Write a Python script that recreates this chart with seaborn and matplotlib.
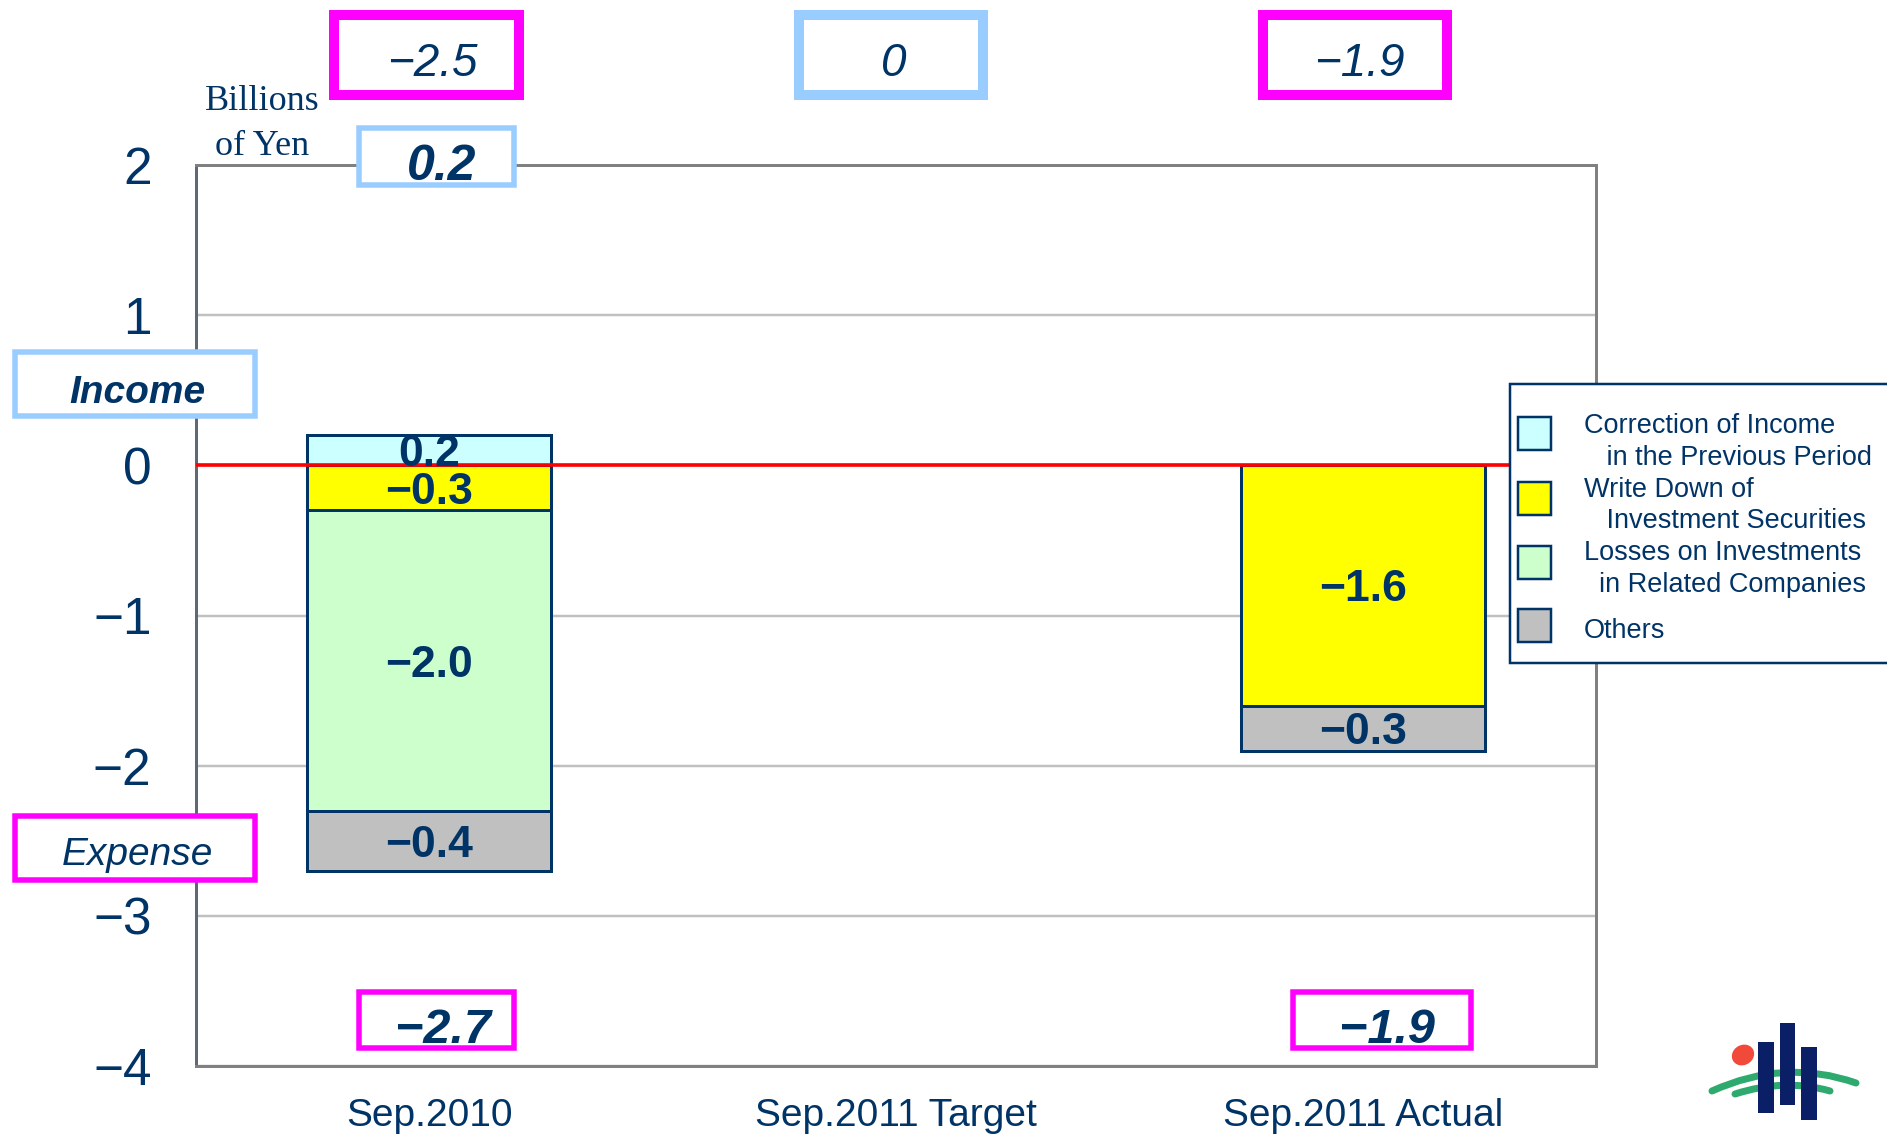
import numpy as np
import pandas as pd
import matplotlib
matplotlib.use("Agg")
import matplotlib.pyplot as plt
from matplotlib.patches import Rectangle, Ellipse, PathPatch
from matplotlib.path import Path
import seaborn as sns

# ---------------- data ----------------
periods = ["Sep.2010", "Sep.2011 Target", "Sep.2011 Actual"]
correction_income = [0.2, 0.0, 0.0]
write_down = [-0.3, 0.0, -1.6]
losses_related = [-2.0, 0.0, 0.0]
others = [-0.4, 0.0, -0.3]
net_totals = [-2.5, 0.0, -1.9]
income_totals = [0.2, None, None]
expense_totals = [-2.7, None, -1.9]
segment_labels = [
    "Correction of Income\n   in the Previous Period",
    "Write Down of\n   Investment Securities",
    "Losses on Investments\n  in Related Companies",
    "Others",
]
y_ticks = [-4, -3, -2, -1, 0, 1, 2]
unit_label = "Billions\nof Yen"
income_label = "Income"
expense_label = "Expense"

# ---------------- style ----------------
W, H = 1887, 1134
NAVY = "#003366"
MAGENTA = "#FF00FF"
LBLUE = "#99CCFF"
seg_colors = ["#CCFFFF", "#FFFF00", "#CCFFCC", "#C0C0C0"]
PT = 0.72  # px -> pt at dpi 100

sns.set_style("white")
plt.rcParams["font.family"] = ["Liberation Sans", "DejaVu Sans"]
plt.rcParams["axes.unicode_minus"] = True


def fmt1(v):
    return f"{v:.1f}".replace("-", "\u2212")


def fmtg(v):
    return f"{v:g}".replace("-", "\u2212")


fig = plt.figure(figsize=(W / 100, H / 100), dpi=100)
ax = fig.add_axes([196 / W, 1 - 1066 / H, 1400 / W, 901 / H])

# ---------------- stacked bars ----------------
segments = [correction_income, write_down, losses_related, others]
rows = []
for i, p in enumerate(periods):
    pos_base, neg_base = 0.0, 0.0
    for k, vals in enumerate(segments):
        v = vals[i]
        if v == 0:
            continue
        if v > 0:
            b = pos_base
            pos_base += v
        else:
            b = neg_base
            neg_base += v
        rows.append(dict(period=p, segment=k, value=v, bottom=b, pos=i))
df = pd.DataFrame(rows)

for k in range(len(segments)):
    sub = df[df["segment"] == k].sort_values("pos")
    if sub.empty:
        continue
    sns.barplot(data=sub, x="period", y="value", order=periods,
                bottom=sub["bottom"].to_numpy(), width=0.523,
                color=seg_colors[k], saturation=1, edgecolor=NAVY,
                linewidth=3 * PT, errorbar=None, ax=ax, zorder=2)

for _, r in df.iterrows():
    ax.text(r["pos"], r["bottom"] + r["value"] / 2, fmt1(r["value"]),
            ha="center", va="center_baseline", fontsize=32, fontweight="bold",
            color=NAVY, zorder=6)

ax.axhline(0, color="#FF0000", lw=3.6 * PT, zorder=4)

ax.set_xlim(-0.5, 2.5)
ax.set_ylim(-4, 2)
ax.set_xlabel("")
ax.set_ylabel("")
ax.set_axisbelow(True)
ax.yaxis.grid(True, color="#C0C0C0", lw=2.5 * PT)
ax.xaxis.grid(False)
ax.set_yticks(y_ticks, labels=[fmtg(t) for t in y_ticks],
              fontfamily=["Liberation Sans Narrow", "Liberation Sans", "DejaVu Sans"],
              fontsize=37, color=NAVY)
ax.set_xticks(range(len(periods)), labels=periods, fontsize=28, color=NAVY)
ax.tick_params(axis="y", direction="in", length=11, width=2 * PT,
               color="#5f6975", pad=32)
ax.tick_params(axis="x", length=0, pad=23)
for name, sp in ax.spines.items():
    sp.set_color("#808080")
    sp.set_linewidth(3 * PT)
ax.spines["left"].set_color("#5f6975")

# ---------------- overlay (annotations, boxes, legend) ----------------
ov = fig.add_axes([0, 0, 1, 1])
ov.set_xlim(0, W)
ov.set_ylim(H, 0)
ov.axis("off")


def box(x0, y0, x1, y1, color, lw_px):
    ov.add_patch(Rectangle((x0, y0), x1 - x0, y1 - y0, facecolor="white",
                           edgecolor=color, lw=lw_px * PT, zorder=3))


# top net totals
top_boxes = [(334, 519), (799, 983), (1263, 1447)]
top_text_x = [432, 894, 1359]
for i, v in enumerate(net_totals):
    color = LBLUE if v >= 0 else MAGENTA
    x0, x1 = top_boxes[i]
    box(x0, 15, x1, 95, color, 10)
    ov.text(top_text_x[i], 76, fmtg(v), ha="center", va="baseline",
            fontsize=33, style="italic", color=NAVY, zorder=5)

# income totals (above) and expense totals (below)
inc_boxes = {0: (359, 514)}
inc_text_x = {0: 442}
for i, v in enumerate(income_totals):
    if v is None:
        continue
    x0, x1 = inc_boxes[i]
    box(x0, 127.5, x1, 184.5, LBLUE, 5.5)
    ov.text(inc_text_x[i], 180, fmtg(v), ha="center", va="baseline",
            fontsize=36, style="italic", fontweight="bold", color=NAVY, zorder=5)

exp_boxes = {0: (359, 514), 2: (1293, 1471)}
exp_text_x = {0: 443, 2: 1387}
for i, v in enumerate(expense_totals):
    if v is None:
        continue
    x0, x1 = exp_boxes[i]
    box(x0, 992, x1, 1048, MAGENTA, 5.5)
    ov.text(exp_text_x[i], 1043, fmtg(v), ha="center", va="baseline",
            fontsize=35, style="italic", fontweight="bold", color=NAVY, zorder=5)

# Income / Expense tags
box(14.5, 351.5, 255, 416, LBLUE, 5.5)
ov.text(137, 403, income_label, ha="center", va="baseline", fontsize=28,
        style="italic", fontweight="bold", color=NAVY, zorder=5)
box(14.5, 815.5, 255, 880, MAGENTA, 5.5)
ov.text(137.5, 865, expense_label, ha="center", va="baseline", fontsize=28,
        style="italic", color=NAVY, zorder=5)

# unit label
for j, line in enumerate(unit_label.split("\n")):
    ov.text(262, [110, 155][j], line, ha="center", va="baseline", fontsize=26,
            fontfamily=["Liberation Serif", "DejaVu Serif"], color=NAVY, zorder=5)

# legend (drawn manually for exact layout)
ov.add_patch(Rectangle((1510, 384), 420, 279, facecolor="white",
                       edgecolor=NAVY, lw=2.5 * PT, zorder=3))
sq_tops = [417, 482, 546, 609]
line_baselines = [[433, 465], [497, 528], [560, 592], [638]]
for k, lab in enumerate(segment_labels):
    ov.add_patch(Rectangle((1518, sq_tops[k]), 33, 33, facecolor=seg_colors[k],
                           edgecolor=NAVY, lw=2.5 * PT, zorder=4))
    for j, line in enumerate(lab.split("\n")):
        ov.text(1584, line_baselines[k][j], line, ha="left", va="baseline",
                fontsize=19.5, color=NAVY, zorder=5)

# logo (decorative)
ov.add_patch(Ellipse((1743, 1055), 23, 20, angle=-30, facecolor="#F24A3A",
                     edgecolor="none", zorder=4))
up = Path([(1712, 1091), (1785, 1058), (1856, 1083)], [Path.MOVETO, Path.CURVE3, Path.CURVE3])
lo = Path([(1735, 1094), (1785, 1078), (1830, 1091)], [Path.MOVETO, Path.CURVE3, Path.CURVE3])
for pth in (up, lo):
    ov.add_patch(PathPatch(pth, facecolor="none", edgecolor="#2EAA6E",
                           lw=7 * PT, capstyle="round", zorder=4))
for (x0, x1, y0, y1) in [(1758, 1774, 1042, 1113), (1780, 1795, 1023, 1105),
                         (1801, 1817, 1047, 1120)]:
    ov.add_patch(Rectangle((x0, y0), x1 - x0, y1 - y0, facecolor="#0A1F66",
                           edgecolor="none", zorder=5))

fig.savefig("out.png", dpi=100)
